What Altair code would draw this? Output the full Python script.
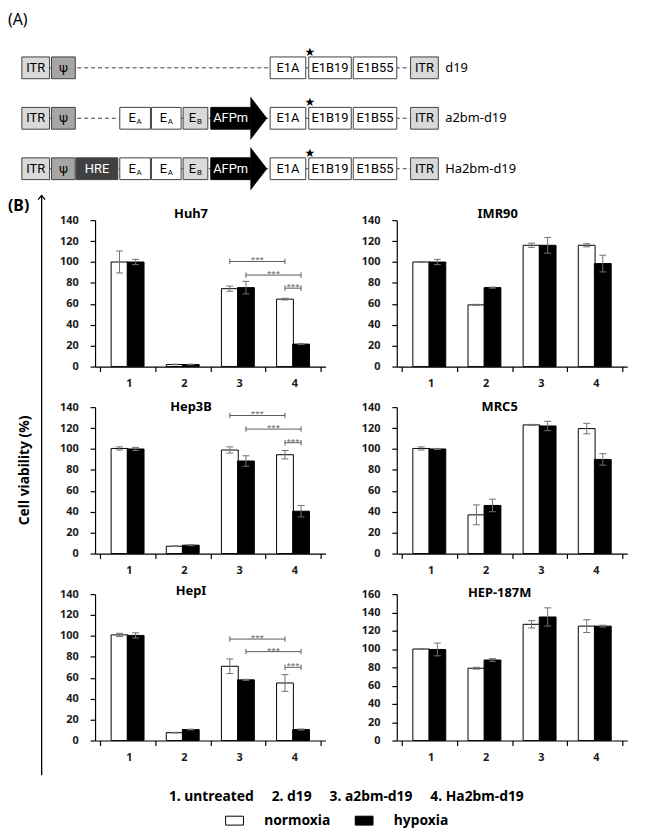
import altair as alt
import pandas as pd

# ---------------- Panel (A): vector maps (schematic positions along the map) ----------------
construct_names = ["d19", "a2bm-d19", "Ha2bm-d19"]
d19_segments = [("ITR", "", 14, 42, "itr"), ("ψ", "", 44, 68, "psi"),
                ("E1A", "", 265, 301, "gene"), ("E1B19", "", 304, 347, "gene"),
                ("E1B55", "", 349, 393, "gene"), ("ITR", "", 407, 435, "itr")]
a2bm_segments = [("ITR", "", 14, 42, "itr"), ("ψ", "", 44, 68, "psi"),
                 ("E", "A", 113, 144, "ea"), ("E", "A", 145, 175, "ea"), ("E", "B", 177, 202, "eb"),
                 ("AFPm", "", 205, 245, "afp"),
                 ("E1A", "", 265, 301, "gene"), ("E1B19", "", 304, 347, "gene"),
                 ("E1B55", "", 349, 393, "gene"), ("ITR", "", 407, 435, "itr")]
ha2bm_segments = [("ITR", "", 14, 42, "itr"), ("ψ", "", 44, 68, "psi"), ("HRE", "", 69, 111, "hre"),
                  ("E", "A", 113, 144, "ea"), ("E", "A", 145, 175, "ea"), ("E", "B", 177, 202, "eb"),
                  ("AFPm", "", 205, 245, "afp"),
                  ("E1A", "", 265, 301, "gene"), ("E1B19", "", 304, 347, "gene"),
                  ("E1B55", "", 349, 393, "gene"), ("ITR", "", 407, 435, "itr")]
construct_segments = [d19_segments, a2bm_segments, ha2bm_segments]
backbone_start = 14
backbone_end = 435
arrow_head = {"a2bm-d19": (245, 262), "Ha2bm-d19": (245, 262)}
mutation_star_pos = 305
construct_label_pos = 442

# ---------------- Panel (B): cell viability (%) ----------------
categories = [1, 2, 3, 4]
category_names = ["untreated", "d19", "a2bm-d19", "Ha2bm-d19"]
conditions = ["normoxia", "hypoxia"]
condition_colors = ["white", "black"]

cell_lines = ["Huh7", "IMR90", "Hep3B", "MRC5", "HepI", "HEP-187M"]
y_max = [140, 140, 140, 140, 140, 160]

norm_mean = {"Huh7": [100, 2, 74.5, 64.5], "IMR90": [100, 59, 116, 116],
             "Hep3B": [100.5, 7, 99, 94.5], "MRC5": [100.5, 37, 123, 119.5],
             "HepI": [101, 7.5, 71, 55], "HEP-187M": [100, 79, 127, 125]}
norm_err = {"Huh7": [10.5, 0.3, 2.5, 0.8], "IMR90": [0.5, 0.5, 2, 1.5],
            "Hep3B": [1.5, 0.3, 3, 4], "MRC5": [1.5, 9.5, 0.5, 5],
            "HepI": [1.5, 0.3, 7, 8], "HEP-187M": [0, 1, 4, 7]}
hyp_mean = {"Huh7": [100, 2, 75.5, 21.5], "IMR90": [100, 75.5, 116, 98.5],
            "Hep3B": [100, 8, 88.5, 40.5], "MRC5": [100, 46, 122, 90],
            "HepI": [100.5, 10.5, 58, 10.5], "HEP-187M": [99.5, 88, 135, 125]}
hyp_err = {"Huh7": [2.5, 0.3, 6, 0.5], "IMR90": [2.5, 0.5, 7.5, 8],
           "Hep3B": [1.5, 0.5, 5, 5.5], "MRC5": [0.5, 6, 4.5, 5.5],
           "HepI": [2.5, 0.3, 0.5, 0.5], "HEP-187M": [7, 1.5, 10, 1]}

sig_brackets = {
    "Huh7": [(3, "normoxia", 4, "normoxia", 100.5), (3, "hypoxia", 4, "hypoxia", 87.5),
             (4, "normoxia", 4, "hypoxia", 75)],
    "Hep3B": [(3, "normoxia", 4, "normoxia", 132), (3, "hypoxia", 4, "hypoxia", 119),
              (4, "normoxia", 4, "hypoxia", 106)],
    "HepI": [(3, "normoxia", 4, "normoxia", 97), (3, "hypoxia", 4, "hypoxia", 85),
             (4, "normoxia", 4, "hypoxia", 70)],
}
sig_text = "***"
y_title = "Cell viability (%)"

# ---------------- layout / style ----------------
FONT = "Noto Sans"
NARROW = "'Liberation Sans Narrow', Roboto, sans-serif"
PW, PH = 233, 148
COL_GAP, ROW_GAP = 72, 41
BAR_W = 17
HALF = BAR_W / 2 / (PW / 4)
cond_shift = {"normoxia": -HALF, "hypoxia": HALF}
ERR_COLOR = "#707070"
BR_COLOR = "#5a5a5a"
LEFT = 88            # distance from the figure's left edge to the first plot area
A_W, A_H = 644, 182

kind_fill = {"itr": "#d9d9d9", "psi": "#a6a6a6", "hre": "#404040", "ea": "white",
             "eb": "#d9d9d9", "afp": "black", "gene": "white"}
kind_stroke = {"afp": "black"}
kind_text = {"hre": "white", "afp": "white"}


def deco_text(txt, x, y, **kw):
    return alt.Chart(pd.DataFrame({"t": [txt]})).mark_text(**kw).encode(
        text="t:N", x=alt.value(x), y=alt.value(y))


# ---------------- Panel A chart ----------------
seg_rows = []
for cname, segs in zip(construct_names, construct_segments):
    for label, sub, s, e, kind in segs:
        seg_rows.append(dict(construct=cname, label=label, sub=sub, start=s, end=e,
                             mid=(s + e) / 2, fill=kind_fill[kind],
                             stroke=kind_stroke.get(kind, "#404040"),
                             tcolor=kind_text.get(kind, "black"), kind=kind))
seg_df = pd.DataFrame(seg_rows)
bb_df = pd.DataFrame({"construct": construct_names, "s": [backbone_start] * 3, "e": [backbone_end] * 3,
                      "star": [mutation_star_pos] * 3, "lab": [construct_label_pos] * 3})
head_df = pd.DataFrame([dict(construct=k, hmid=(v[0] + v[1]) / 2) for k, v in arrow_head.items()])

xA = alt.Scale(domain=[0, A_W], range=[-LEFT, A_W - LEFT], nice=False, zero=False)
yA = alt.Scale(type="point", domain=construct_names, range=[56, 158], padding=0)

backbone = alt.Chart(bb_df).mark_rule(strokeDash=[4, 3], color="#404040", strokeWidth=1).encode(
    x=alt.X("s:Q", scale=xA, axis=None), x2="e:Q", y=alt.Y("construct:N", scale=yA, axis=None))
boxes = alt.Chart(seg_df).mark_bar(height=22, strokeWidth=1).encode(
    x="start:Q", x2="end:Q", y="construct:N",
    fill=alt.Fill("fill:N", scale=None), stroke=alt.Stroke("stroke:N", scale=None))
heads = alt.Chart(head_df).mark_point(shape="M-0.386,-1L0.386,0L-0.386,1Z", size=1936, filled=True,
                                      color="black", opacity=1, strokeWidth=0).encode(
    x="hmid:Q", y="construct:N")
plain_labels = alt.Chart(seg_df).transform_filter("datum.sub == ''").mark_text(
    font=NARROW, fontSize=13, baseline="middle", align="center").encode(
    x="mid:Q", y="construct:N", text="label:N", color=alt.Color("tcolor:N", scale=None))
e_labels = alt.Chart(seg_df).transform_filter("datum.sub != ''").mark_text(
    font=NARROW, fontSize=13, baseline="middle", align="center", dx=-3).encode(
    x="mid:Q", y="construct:N", text="label:N")
e_subs = alt.Chart(seg_df).transform_filter("datum.sub != ''").mark_text(
    font=NARROW, fontSize=8, baseline="middle", align="center", dx=4, dy=4).encode(
    x="mid:Q", y="construct:N", text="sub:N")
stars = alt.Chart(bb_df).mark_text(text="★", font="DejaVu Sans", fontSize=12, dy=-16,
                                   baseline="middle").encode(x="star:Q", y="construct:N")
cnames = alt.Chart(bb_df).mark_text(font=FONT, fontSize=13, align="left", baseline="middle").encode(
    x="lab:Q", y="construct:N", text="construct:N")
tagA = deco_text("(A)", -LEFT, 8, font=FONT, fontSize=16, align="left", baseline="middle")

panelA = alt.layer(backbone, boxes, heads, plain_labels, e_labels, e_subs, stars, cnames, tagA).properties(
    width=A_W - LEFT, height=A_H)


# ---------------- Panel B charts ----------------
def bar_panel(name, ymax, title_x, title_y, extras=()):
    rows = []
    for cond, vals, errs in [("normoxia", norm_mean[name], norm_err[name]),
                             ("hypoxia", hyp_mean[name], hyp_err[name])]:
        for cat, v, e in zip(categories, vals, errs):
            rows.append(dict(cat=cat, cond=cond, value=v, lo=v - e, hi=v + e,
                             pos=cat + cond_shift[cond]))
    df = pd.DataFrame(rows)
    xscale = alt.Scale(domain=[0.5, 4.5], nice=False, zero=False)
    yscale = alt.Scale(domain=[0, ymax], nice=False)
    xaxis = alt.Axis(values=[0.5, 1.5, 2.5, 3.5, 4.5],
                     labelExpr="datum.value < 4 ? '' + (datum.value + 0.5) : ''",
                     labelOffset=PW / 8, labelFlush=False, labelOverlap=False,
                     tickSize=5, labelPadding=6, title=None, grid=False)
    yaxis = alt.Axis(values=list(range(0, ymax + 1, 20)), format="d", tickSize=5,
                     labelPadding=12, labelOverlap=False, labelSeparation=0, labelBound=False,
                     title=None, grid=False)

    def X(f):
        return alt.X(f, scale=xscale, axis=xaxis)

    def Y(f):
        return alt.Y(f, scale=yscale, axis=yaxis)

    base = alt.Chart(df)
    bars = base.mark_bar(width=BAR_W, stroke="black", strokeWidth=1).encode(
        x=X("pos:Q"), y=Y("value:Q"),
        fill=alt.Fill("cond:N", scale=alt.Scale(domain=conditions, range=condition_colors), legend=None))
    err = base.mark_rule(color=ERR_COLOR, strokeWidth=1).encode(x=X("pos:Q"), y=Y("lo:Q"), y2="hi:Q")
    caps = base.transform_fold(["lo", "hi"], as_=["k", "v"]).mark_point(
        shape="M-1,0L1,0", size=49, filled=False, color=ERR_COLOR, strokeWidth=1, opacity=1).encode(
        x=X("pos:Q"), y=Y("v:Q"))
    title = deco_text(name, title_x, title_y, font=FONT, fontSize=13, fontWeight="bold",
                      align="center", baseline="middle")
    layers = [bars, err, caps]
    if name in sig_brackets:
        brows, crows = [], []
        for ca, cda, cb, cdb, lvl in sig_brackets[name]:
            xa, xb = ca + cond_shift[cda], cb + cond_shift[cdb]
            brows.append(dict(x1=xa, x2=xb, mid=(xa + xb) / 2, lvl=lvl, t=sig_text))
            crows += [dict(x=xa, lvl=lvl), dict(x=xb, lvl=lvl)]
        bdf, cdf = pd.DataFrame(brows), pd.DataFrame(crows)
        layers += [
            alt.Chart(bdf).mark_rule(color=BR_COLOR, strokeWidth=1).encode(
                x=X("x1:Q"), x2="x2:Q", y=Y("lvl:Q")),
            alt.Chart(cdf).mark_point(shape="M0,-1L0,1", size=30, filled=False, color=BR_COLOR,
                                      strokeWidth=1, opacity=1).encode(x=X("x:Q"), y=Y("lvl:Q")),
            alt.Chart(bdf).mark_text(font=FONT, fontSize=8, color=BR_COLOR, baseline="alphabetic",
                                     dy=1).encode(x=X("mid:Q"), y=Y("lvl:Q"), text="t:N"),
        ]
    layers.append(title)
    layers += list(extras)
    return alt.layer(*layers).properties(width=PW, height=PH)


# decorations of the figure placed relative to the first and last left panels
side_arrow = [
    deco_text("(B)", -LEFT, -14, font=FONT, fontSize=16, fontWeight="bold", align="left", baseline="middle"),
    alt.Chart(pd.DataFrame({"a": [0]})).mark_rule(color="black", strokeWidth=1.3).encode(
        x=alt.value(-54), y=alt.value(-25), y2=alt.value(561)),
    alt.Chart(pd.DataFrame({"a": [0]})).mark_point(shape="M-1,1.2L0,0L1,1.2", size=49, filled=False,
                                                   color="black", strokeWidth=1.3, opacity=1).encode(
        x=alt.value(-54), y=alt.value(-25)),
    deco_text(y_title, -71, 253, font=FONT, fontSize=14, fontWeight="bold", angle=270,
              align="center", baseline="middle"),
]
nb = "\u00a0" * 5
legend_line = nb.join(f"{c}. {n}" for c, n in zip(categories, category_names))
legend_layers = [
    deco_text(legend_line, 254, 205, font=FONT, fontSize=14, fontWeight="bold", align="center",
              baseline="middle"),
]
for (sx, lx), cond, col in zip([(141, 171), (272, 302)], conditions, condition_colors):
    legend_layers.append(
        alt.Chart(pd.DataFrame({"c": [cond]})).mark_point(
            shape="M-1,-0.5L1,-0.5L1,0.5L-1,0.5Z", size=324, filled=True, fill=col, stroke="black",
            strokeWidth=1, opacity=1).encode(x=alt.value(sx), y=alt.value(229)))
    legend_layers.append(deco_text(cond, lx, 229, font=FONT, fontSize=14, fontWeight="bold",
                                   align="left", baseline="middle"))

title_pos = {"Huh7": (97, -6), "IMR90": (102, -6), "Hep3B": (97, 0), "MRC5": (104, 0),
             "HepI": (97, -3), "HEP-187M": (104, -1)}
panels = []
for name, ym in zip(cell_lines, y_max):
    tx, ty = title_pos[name]
    extras = side_arrow if name == "Huh7" else (legend_layers if name == "HepI" else ())
    panels.append(bar_panel(name, ym, tx, ty, extras))

grid = alt.concat(*panels, columns=2, spacing={"row": ROW_GAP, "column": COL_GAP}, bounds="flush")

chart = alt.vconcat(panelA, grid, spacing=0).properties(padding=0).configure_view(
    stroke=None).configure_axis(
    domainColor="black", tickColor="black", domainWidth=1.2, tickWidth=1.2, labelOverlap=False,
    labelFont=FONT, labelFontSize=11, labelFontWeight="bold", labelColor="#1a1a1a", grid=False
).configure_axisY(labelOverlap=False)

chart.save("out.html", embed_options={"renderer": "svg", "actions": False})
